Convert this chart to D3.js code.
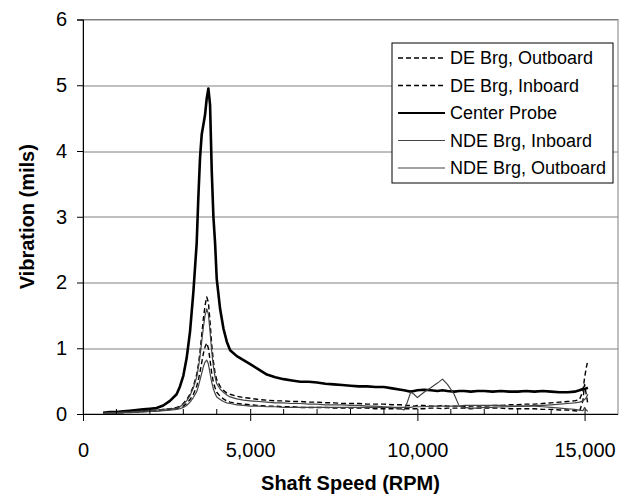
<!DOCTYPE html>
<html>
<head>
<meta charset="utf-8">
<script src="https://cdn.jsdelivr.net/npm/d3@7"></script>
<style>
  body { margin: 0; background: #fff; }
  text { font-family: "Liberation Sans", Arial, sans-serif; fill: #000; }
  .tick-label { font-size: 20px; }
  .axis-title { font-size: 20px; font-weight: bold; }
  .legend-label { font-size: 18px; }
</style>
</head>
<body>
<div id="wrapper"></div>
<script>
// shaft speed samples (RPM)
const rpm = [600, 800, 1000, 1200, 1400, 1600, 1800, 2000,
  2200, 2400, 2600, 2800, 2900,
  3000, 3100, 3200, 3300,
  3400, 3450, 3500, 3550, 3600, 3650,
  3700, 3750, 3800, 3850, 3900, 3950,
  4000, 4100, 4200, 4300, 4400,
  4600, 4800, 5000,
  5250, 5500, 5750,
  6000, 6250, 6500, 6750,
  7000, 7250, 7500, 7750,
  8000, 8250, 8500, 8750,
  9000, 9250, 9500,
  9600, 9700, 9800, 9900, 10000,
  10200, 10400, 10600, 10750, 10900,
  11100, 11250, 11400, 11600, 11800,
  12000, 12250, 12500, 12750,
  13000, 13250, 13500, 13750,
  14000, 14250, 14500,
  14700, 14850, 14950, 15000, 15050, 15100]

const deOutboard = [0.01, 0.02, 0.02, 0.03, 0.03, 0.04, 0.05, 0.05,
  0.06, 0.07, 0.08, 0.1, 0.12,
  0.16, 0.22, 0.3, 0.42,
  0.6, 0.75, 0.95, 1.2, 1.45, 1.65,
  1.78, 1.7, 1.4, 1.05, 0.8, 0.62,
  0.52, 0.42, 0.36, 0.32, 0.3,
  0.27, 0.25, 0.24,
  0.22, 0.21, 0.2,
  0.2, 0.19, 0.19, 0.18,
  0.18, 0.17, 0.17, 0.16,
  0.16, 0.16, 0.15, 0.15,
  0.15, 0.14, 0.14,
  0.13, 0.13, 0.13, 0.12, 0.13,
  0.13, 0.12, 0.12, 0.13, 0.12,
  0.12, 0.12, 0.11, 0.12, 0.12,
  0.12, 0.13, 0.13, 0.14,
  0.14, 0.15, 0.15, 0.16,
  0.17, 0.18, 0.19,
  0.2, 0.22, 0.35, 0.55, 0.7, 0.82]

const deInboard = [0.01, 0.01, 0.02, 0.02, 0.03, 0.03, 0.04, 0.05,
  0.05, 0.06, 0.07, 0.08, 0.1,
  0.12, 0.16, 0.22, 0.3,
  0.42, 0.52, 0.64, 0.78, 0.92, 1.02,
  1.08, 1.0, 0.82, 0.62, 0.48, 0.4,
  0.33, 0.27, 0.23, 0.2, 0.18,
  0.16, 0.15, 0.14,
  0.13, 0.12, 0.12,
  0.11, 0.11, 0.1, 0.1,
  0.1, 0.1, 0.09, 0.09,
  0.09, 0.09, 0.09, 0.08,
  0.08, 0.08, 0.08,
  0.08, 0.08, 0.08, 0.08, 0.08,
  0.08, 0.09, 0.09, 0.08, 0.09,
  0.09, 0.09, 0.09, 0.08, 0.09,
  0.09, 0.09, 0.09, 0.08,
  0.08, 0.08, 0.08, 0.07,
  0.07, 0.06, 0.06,
  0.05, 0.04, 0.2, 0.45, 0.3, 0.15]

const centerProbe = [0.02, 0.03, 0.03, 0.04, 0.05, 0.06, 0.07, 0.08,
  0.09, 0.13, 0.2, 0.3, 0.42,
  0.58, 0.85, 1.25, 1.85,
  2.6, 3.3, 3.9, 4.25, 4.4, 4.55,
  4.8, 4.95, 4.7, 3.7, 3.0, 2.6,
  2.05, 1.6, 1.3, 1.1, 0.97,
  0.88, 0.82, 0.76,
  0.68, 0.6, 0.56,
  0.53, 0.51, 0.49, 0.49,
  0.48, 0.46, 0.45, 0.44,
  0.43, 0.42, 0.42, 0.41,
  0.41, 0.39, 0.37,
  0.36, 0.35, 0.34, 0.35, 0.36,
  0.37, 0.36, 0.35, 0.36, 0.35,
  0.34, 0.35, 0.35, 0.34, 0.35,
  0.35, 0.34, 0.35, 0.34,
  0.34, 0.35, 0.34, 0.35,
  0.34, 0.33, 0.33,
  0.34, 0.36, 0.38, 0.38, 0.39, 0.4]

const ndeInboard = [0.01, 0.02, 0.02, 0.03, 0.03, 0.04, 0.04, 0.05,
  0.06, 0.07, 0.08, 0.09, 0.11,
  0.15, 0.2, 0.28, 0.4,
  0.56, 0.7, 0.88, 1.1, 1.32, 1.5,
  1.6, 1.52, 1.25, 0.95, 0.72, 0.56,
  0.46, 0.38, 0.33, 0.29, 0.26,
  0.23, 0.21, 0.2,
  0.19, 0.18, 0.17,
  0.17, 0.16, 0.16, 0.15,
  0.15, 0.14, 0.14, 0.14,
  0.13, 0.13, 0.12, 0.12,
  0.11, 0.1, 0.08,
  0.06, 0.18, 0.33, 0.3, 0.25,
  0.33, 0.4, 0.47, 0.53, 0.45,
  0.3, 0.12, 0.1, 0.09, 0.09,
  0.1, 0.1, 0.11, 0.11,
  0.12, 0.12, 0.13, 0.13,
  0.14, 0.15, 0.16,
  0.17, 0.18, 0.2, 0.22, 0.25, 0.3]

const ndeOutboard = [0.01, 0.01, 0.01, 0.02, 0.02, 0.03, 0.03, 0.04,
  0.04, 0.05, 0.06, 0.07, 0.08,
  0.1, 0.13, 0.18, 0.25,
  0.34, 0.42, 0.52, 0.62, 0.72, 0.79,
  0.82, 0.76, 0.62, 0.48, 0.38, 0.31,
  0.26, 0.22, 0.19, 0.17, 0.16,
  0.14, 0.13, 0.12,
  0.12, 0.11, 0.11,
  0.1, 0.1, 0.1, 0.1,
  0.1, 0.1, 0.1, 0.1,
  0.1, 0.1, 0.1, 0.1,
  0.1, 0.1, 0.1,
  0.1, 0.1, 0.1, 0.11, 0.11,
  0.11, 0.12, 0.12, 0.12, 0.12,
  0.12, 0.12, 0.13, 0.13, 0.13,
  0.13, 0.13, 0.13, 0.12,
  0.12, 0.12, 0.12, 0.11,
  0.1, 0.09, 0.08,
  0.07, 0.06, 0.05, 0.1, 0.06, 0.04]

const seriesNames = ["DE Brg, Outboard", "DE Brg, Inboard", "Center Probe", "NDE Brg, Inboard", "NDE Brg, Outboard"]
const seriesValues = [deOutboard, deInboard, centerProbe, ndeInboard, ndeOutboard]
const xTicks = [0, 5000, 10000, 15000]
const yTicks = [0, 1, 2, 3, 4, 5, 6]

// line styles per series
const styles = [
  { stroke: "#000", width: 1.4, dash: "5,3" },
  { stroke: "#000", width: 1.4, dash: "5,3" },
  { stroke: "#000", width: 2.6, dash: null },
  { stroke: "#444", width: 1.2, dash: null },
  { stroke: "#444", width: 1.2, dash: null },
]

const dimensions = {
  width: 621,
  height: 502,
  margin: { top: 19.5, right: 3, bottom: 88, left: 83 },
}
dimensions.boundedWidth = dimensions.width - dimensions.margin.left - dimensions.margin.right
dimensions.boundedHeight = dimensions.height - dimensions.margin.top - dimensions.margin.bottom

const svg = d3.select("#wrapper")
  .append("svg")
  .attr("width", dimensions.width)
  .attr("height", dimensions.height)

const bounds = svg.append("g")
  .attr("transform", `translate(${dimensions.margin.left}, ${dimensions.margin.top})`)

const xScale = d3.scaleLinear()
  .domain([0, 16000])
  .range([0, dimensions.boundedWidth])

const yScale = d3.scaleLinear()
  .domain([0, 6])
  .range([dimensions.boundedHeight, 0])

// plot frame + gridlines
bounds.append("rect")
  .attr("width", dimensions.boundedWidth)
  .attr("height", dimensions.boundedHeight)
  .attr("fill", "none")
  .attr("stroke", "#808080")

bounds.append("g")
  .selectAll("line")
  .data(yTicks.slice(1))
  .join("line")
  .attr("x1", 0)
  .attr("x2", dimensions.boundedWidth)
  .attr("y1", d => Math.round(yScale(d)) + 0.5)
  .attr("y2", d => Math.round(yScale(d)) + 0.5)
  .attr("stroke", "#808080")

// data lines
const lineGen = d3.line()
  .x((d, i) => xScale(rpm[i]))
  .y(d => yScale(d))

bounds.append("g")
  .selectAll("path")
  .data(seriesValues)
  .join("path")
  .attr("d", d => lineGen(d))
  .attr("fill", "none")
  .attr("stroke", (d, i) => styles[i].stroke)
  .attr("stroke-width", (d, i) => styles[i].width)
  .attr("stroke-dasharray", (d, i) => styles[i].dash)
  .attr("stroke-linejoin", "round")

// axes
const xAxis = d3.axisBottom(xScale)
  .tickValues(xTicks)
  .tickFormat(d3.format(","))
  .tickSize(7)
  .tickPadding(22)

const xAxisGroup = bounds.append("g")
  .attr("transform", `translate(0, ${dimensions.boundedHeight})`)
  .call(xAxis)
xAxisGroup.select(".domain").attr("d", `M0,0.5H${dimensions.boundedWidth}`)
xAxisGroup.selectAll(".tick line").attr("y1", -5)
xAxisGroup.selectAll("text").attr("class", "tick-label").attr("font-size", null).attr("font-family", null)

// minor ticks every 1000 rpm
xAxisGroup.append("g")
  .selectAll("line")
  .data(d3.range(1000, 16000, 1000).filter(d => !xTicks.includes(d)))
  .join("line")
  .attr("x1", d => xScale(d))
  .attr("x2", d => xScale(d))
  .attr("y1", -5)
  .attr("y2", 0)
  .attr("stroke", "#000")

const yAxis = d3.axisLeft(yScale)
  .tickValues(yTicks)
  .tickFormat(d3.format("d"))
  .tickSize(6)
  .tickPadding(10)

const yAxisGroup = bounds.append("g").call(yAxis)
yAxisGroup.selectAll("text").attr("class", "tick-label").attr("font-size", null).attr("font-family", null)

// axis titles
svg.append("text")
  .attr("class", "axis-title")
  .attr("x", dimensions.margin.left + dimensions.boundedWidth / 2)
  .attr("y", 490)
  .attr("text-anchor", "middle")
  .text("Shaft Speed (RPM)")

svg.append("text")
  .attr("class", "axis-title")
  .attr("transform", `translate(34, ${dimensions.margin.top + dimensions.boundedHeight / 2}) rotate(-90)`)
  .attr("text-anchor", "middle")
  .text("Vibration (mils)")

// legend
const legend = svg.append("g")
  .attr("transform", "translate(392, 43)")

legend.append("rect")
  .attr("width", 221)
  .attr("height", 140)
  .attr("fill", "#fff")
  .attr("stroke", "#000")

const legendItems = legend.selectAll(".item")
  .data(seriesNames)
  .join("g")
  .attr("transform", (d, i) => `translate(0, ${15 + i * 27.5})`)

legendItems.append("line")
  .attr("x1", 6)
  .attr("x2", 53)
  .attr("stroke", (d, i) => styles[i].stroke)
  .attr("stroke-width", (d, i) => Math.min(styles[i].width, 2.2))
  .attr("stroke-dasharray", (d, i) => styles[i].dash)

legendItems.append("text")
  .attr("class", "legend-label")
  .attr("x", 58)
  .attr("dy", "0.35em")
  .text(d => d)
</script>
</body>
</html>
